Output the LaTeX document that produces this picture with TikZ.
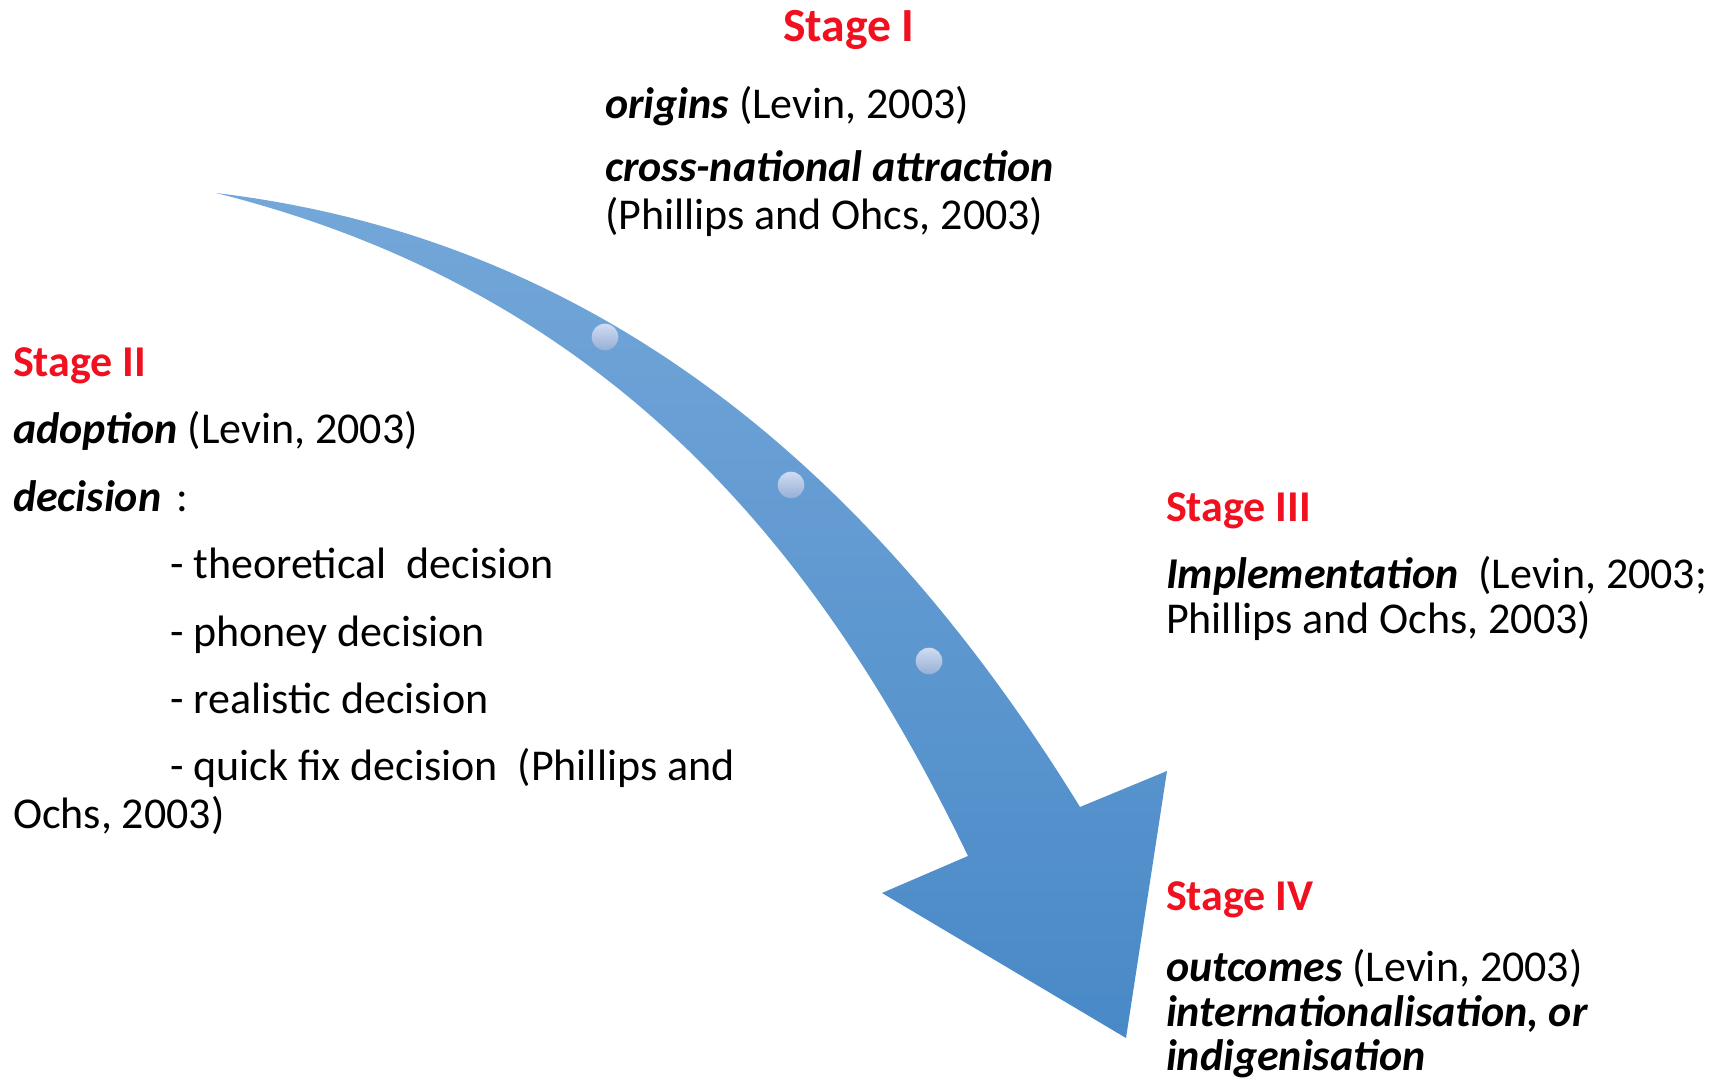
\documentclass[tikz,border=0pt]{standalone}
\usepackage{fontspec}
\setmainfont{Carlito}
\definecolor{stagered}{RGB}{240,16,32}
\definecolor{arrtop}{RGB}{116,167,217}
\definecolor{arrbot}{RGB}{73,137,199}
\definecolor{dottop}{RGB}{208,220,241}
\definecolor{dotbot}{RGB}{150,175,214}
\begin{document}
\begin{tikzpicture}[x=0.5pt,y=-0.5pt,
  txt/.style={anchor=base west, inner sep=0pt, outer sep=0pt, font=\fontsize{22}{26}\selectfont, text=black},
  head/.style={txt, font=\fontsize{22}{26}\selectfont\bfseries, text=stagered},
  bighead/.style={txt, font=\fontsize{23.8}{28}\selectfont\bfseries, text=stagered},
  dotmark/.style={circle, minimum size=13.3pt, inner sep=0pt, top color=dottop, bottom color=dotbot, draw=none},
  arrowfill/.style={top color=arrtop, bottom color=arrbot, draw=none}]
\useasboundingbox (0,0) rectangle (1714,1080);
\clip (0,0) rectangle (1714,1080);
% arrow geometry
\coordinate (tail) at (216,193);
\coordinate (notchU) at (1080,807);
\coordinate (headR) at (1167,771);
\coordinate (tip) at (1126,1038);
\coordinate (headL) at (882,893);
\coordinate (notchL) at (968,856);
\path[arrowfill] (tail) .. controls (593,238) and (870,466) .. (notchU) -- (headR) -- (tip) -- (headL) -- (notchL) .. controls (822.6,554.2) and (613.7,292.6) .. (tail) -- cycle;
% dots
\node[dotmark] (d1) at (605,337) {};
\node[dotmark] (d2) at (791,485) {};
\node[dotmark] (d3) at (929,661) {};
% Stage I
\node[bighead] (s1) at (783,41.7) {Stage I};
\node[txt] (s1a) at (605,118.3) {\textbf{\textit{origins}} (Levin, 2003)};
\node[txt] (s1b) at (605,181.7) {\textbf{\textit{cross-national attraction}}};
\node[txt] (s1c) at (605,230) {(Phillips and Ohcs, 2003)};
% Stage II
\node[head] (s2) at (13,376.7) {Stage II};
\node[txt] (s2a) at (13,443.3) {\textbf{\textit{adoption}} (Levin, 2003)};
\node[txt] (s2b) at (13,511) {\textbf{\textit{decision}}\hspace{0.35em}:};
\node[txt] (s2c) at (170,578.3) {- theoretical~ decision};
\node[txt] (s2d) at (170,646) {- phoney decision};
\node[txt] (s2e) at (170,713.3) {- realistic decision};
\node[txt] (s2f) at (170,780.7) {- quick fix decision~ (Phillips and};
\node[txt] (s2g) at (13,828.3) {Ochs, 2003)};
% Stage III
\node[head] (s3) at (1166,521.7) {Stage III};
\node[txt] (s3a) at (1166,588.3) {\textbf{\textit{Implementation}}~ (Levin, 2003;};
\node[txt] (s3b) at (1166,633.3) {Phillips and Ochs, 2003)};
% Stage IV
\node[head] (s4) at (1166,910) {Stage IV};
\node[txt] (s4a) at (1166,981.7) {\textbf{\textit{outcomes}} (Levin, 2003)};
\node[txt] (s4b) at (1166,1026.7) {\textbf{\textit{internationalisation, or}}};
\node[txt] (s4c) at (1166,1070) {\textbf{\textit{indigenisation}}};
\end{tikzpicture}
\end{document}
